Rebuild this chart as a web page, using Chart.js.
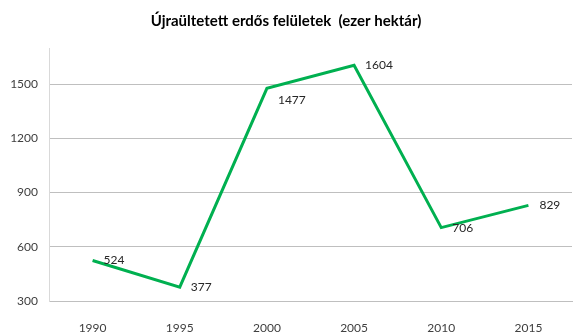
<!DOCTYPE html>
<html>
<head>
<meta charset="utf-8">
<script src="https://cdn.jsdelivr.net/npm/chart.js@4.4.1/dist/chart.umd.min.js"></script>
<style>
    html, body { margin: 0; padding: 0; background: #fff; }
    #wrap { width: 586px; height: 336px; }
</style>
</head>
<body>
<div id="wrap"><canvas id="chart"></canvas></div>
<script>
// Data
const years = ['1990', '1995', '2000', '2005', '2010', '2015'];
const area = [524, 377, 1477, 1604, 706, 829];
const yTicks = [300, 600, 900, 1200, 1500];
// where each value label sits relative to its point
const labelPlace = ['right', 'right', 'belowRight', 'right', 'right', 'right'];

// Draw the value labels next to the line points
const valueLabels = {
    id: 'valueLabels',
    afterDatasetsDraw(chart) {
        const ctx = chart.ctx;
        const meta = chart.getDatasetMeta(0);
        ctx.save();
        ctx.font = '12px Lato, "DejaVu Sans", sans-serif';
        ctx.fillStyle = '#262626';
        ctx.textAlign = 'left';
        ctx.textBaseline = 'middle';
        meta.data.forEach((pt, i) => {
            let dx = 11, dy = 0;
            if (labelPlace[i] === 'belowRight') { dy = 12; }
            ctx.fillText(String(area[i]), pt.x + dx, pt.y + dy);
        });
        ctx.restore();
    }
};

const ctx = document.getElementById('chart').getContext('2d');
const chart = new Chart(ctx, {
    type: 'line',
    data: {
        labels: years,
        datasets: [{
            data: area,
            borderColor: '#00B050',
            borderWidth: 3,
            pointRadius: 0,
            tension: 0,
            fill: false
        }]
    },
    options: {
        responsive: true,
        maintainAspectRatio: false,
        animation: false,
        layout: { padding: { left: 0, right: 14, top: 0, bottom: 0 } },
        plugins: {
            legend: { display: false },
            tooltip: { enabled: false },
            title: {
                display: true,
                text: 'Újraültetett erdős felületek  (ezer hektár)',
                color: '#000',
                font: { family: 'Lato, "DejaVu Sans", sans-serif', size: 15, weight: 'bold' },
                padding: { top: 12, bottom: 18 }
            }
        },
        scales: {
            x: {
                offset: true,
                grid: { display: false },
                border: { display: true, color: '#bfbfbf', width: 1 },
                ticks: { color: '#404040', font: { family: 'Lato, "DejaVu Sans", sans-serif', size: 12 }, padding: 12, maxRotation: 0 },
                afterFit(scale) { scale.height = 35; }
            },
            y: {
                min: 300,
                max: 1700,
                grid: { color: '#bfbfbf', drawTicks: false, lineWidth: 1 },
                border: { display: true, color: '#d9d9d9', width: 1 },
                ticks: {
                    color: '#404040',
                    font: { family: 'Lato, "DejaVu Sans", sans-serif', size: 12 },
                    padding: 11,
                    callback: v => String(v)
                },
                afterBuildTicks(scale) { scale.ticks = yTicks.map(v => ({ value: v })); },
                afterFit(scale) { scale.width = 49; }
            }
        }
    },
    plugins: [valueLabels]
});
</script>
</body>
</html>
